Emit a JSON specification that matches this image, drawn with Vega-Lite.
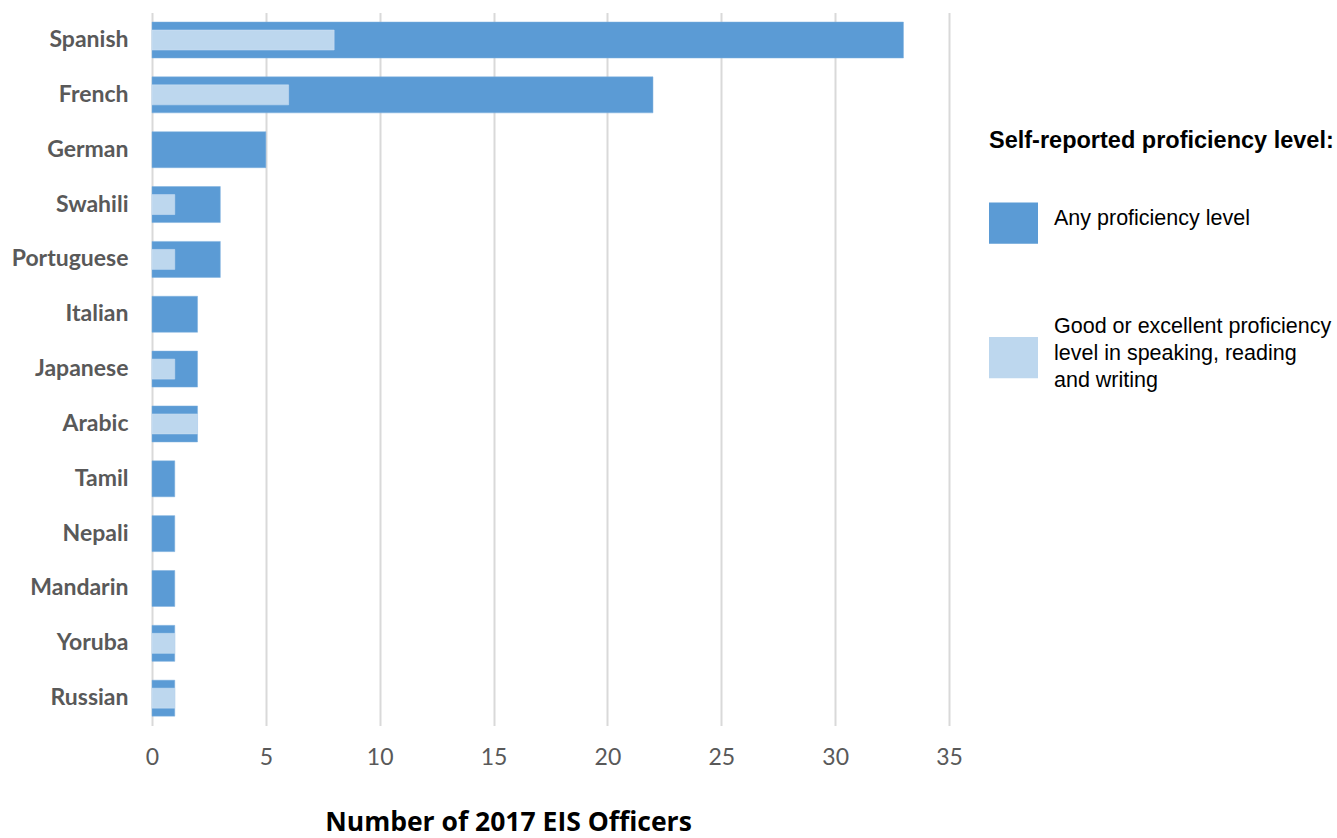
{
  "$schema": "https://vega.github.io/schema/vega-lite/v6.json",
  "autosize": {"type": "none"},
  "width": 797,
  "height": 713,
  "padding": {"left": 152, "top": 12.6, "right": 388, "bottom": 112.4},
  "background": "white",
  "data": {"values": [
    {"language": "Spanish", "level": "Any proficiency level", "count": 33},
    {"language": "French", "level": "Any proficiency level", "count": 22},
    {"language": "German", "level": "Any proficiency level", "count": 5},
    {"language": "Swahili", "level": "Any proficiency level", "count": 3},
    {"language": "Portuguese", "level": "Any proficiency level", "count": 3},
    {"language": "Italian", "level": "Any proficiency level", "count": 2},
    {"language": "Japanese", "level": "Any proficiency level", "count": 2},
    {"language": "Arabic", "level": "Any proficiency level", "count": 2},
    {"language": "Tamil", "level": "Any proficiency level", "count": 1},
    {"language": "Nepali", "level": "Any proficiency level", "count": 1},
    {"language": "Mandarin", "level": "Any proficiency level", "count": 1},
    {"language": "Yoruba", "level": "Any proficiency level", "count": 1},
    {"language": "Russian", "level": "Any proficiency level", "count": 1},
    {"language": "Spanish", "level": "Good or excellent", "count": 8},
    {"language": "French", "level": "Good or excellent", "count": 6},
    {"language": "German", "level": "Good or excellent", "count": 0},
    {"language": "Swahili", "level": "Good or excellent", "count": 1},
    {"language": "Portuguese", "level": "Good or excellent", "count": 1},
    {"language": "Italian", "level": "Good or excellent", "count": 0},
    {"language": "Japanese", "level": "Good or excellent", "count": 1},
    {"language": "Arabic", "level": "Good or excellent", "count": 2},
    {"language": "Tamil", "level": "Good or excellent", "count": 0},
    {"language": "Nepali", "level": "Good or excellent", "count": 0},
    {"language": "Mandarin", "level": "Good or excellent", "count": 0},
    {"language": "Yoruba", "level": "Good or excellent", "count": 1},
    {"language": "Russian", "level": "Good or excellent", "count": 1}
  ]},
  "encoding": {
    "y": {
      "field": "language", "type": "nominal", "sort": null,
      "scale": {"paddingInner": 0, "paddingOuter": 0},
      "axis": {
        "title": null, "domain": false, "ticks": false, "grid": false,
        "labelFont": "Lato", "labelFontSize": 23, "labelFontWeight": "bold",
        "labelColor": "#595959", "labelPadding": 24
      }
    },
    "x": {
      "field": "count", "type": "quantitative",
      "scale": {"domain": [0, 35], "nice": false},
      "axis": {
        "values": [0, 5, 10, 15, 20, 25, 30, 35],
        "title": "Number of 2017 EIS Officers",
        "titleFont": "Open Sans", "titleFontSize": 26.5, "titleFontWeight": "bold",
        "titleColor": "black", "titleX": 356, "titleY": 104.5, "titleBaseline": "alphabetic",
        "titleAlign": "center", "titleAnchor": null,
        "domain": false, "ticks": false,
        "grid": true, "gridColor": "#d9d9d9", "gridWidth": 2,
        "labelFont": "Lato", "labelFontSize": 23, "labelColor": "#595959",
        "labelPadding": 21, "labelFlush": false, "labelOverlap": false
      }
    },
    "color": {
      "field": "level", "type": "nominal",
      "scale": {"domain": ["Any proficiency level", "Good or excellent"], "range": ["#5b9bd5", "#bdd7ee"]},
      "legend": {
        "orient": "none", "legendX": 837, "legendY": 116,
        "title": "Self-reported proficiency level:",
        "titleFont": "Liberation Sans", "titleFontSize": 23.5, "titleFontWeight": "bold", "titleColor": "black",
        "titleLimit": 600, "titlePadding": 15.5,
        "symbolType": "M-1,0.4253H1V2.1053H-1Z", "symbolSize": 2401, "symbolStrokeWidth": 0, "symbolOpacity": 1,
        "labelFont": "Liberation Sans", "labelFontSize": 21.5, "labelColor": "black",
        "labelOffset": 16, "labelLimit": 400, "rowPadding": 57.5,
        "labelExpr": "datum.label == 'Good or excellent' ? ['Good or excellent proficiency', 'level in speaking, reading', 'and writing'] : ['', datum.label]"
      }
    }
  },
  "layer": [
    {"transform": [{"filter": "datum.level == 'Any proficiency level'"}], "mark": {"type": "bar", "size": 36, "stroke": "#7fb0de", "strokeWidth": 0.5}},
    {"transform": [{"filter": "datum.level == 'Good or excellent' && datum.count > 0"}], "mark": {"type": "bar", "size": 20, "stroke": "#d0e3f4", "strokeWidth": 0.5}}
  ],
  "config": {"view": {"stroke": null}, "style": {"guide-label": {"lineHeight": 27}}}
}
